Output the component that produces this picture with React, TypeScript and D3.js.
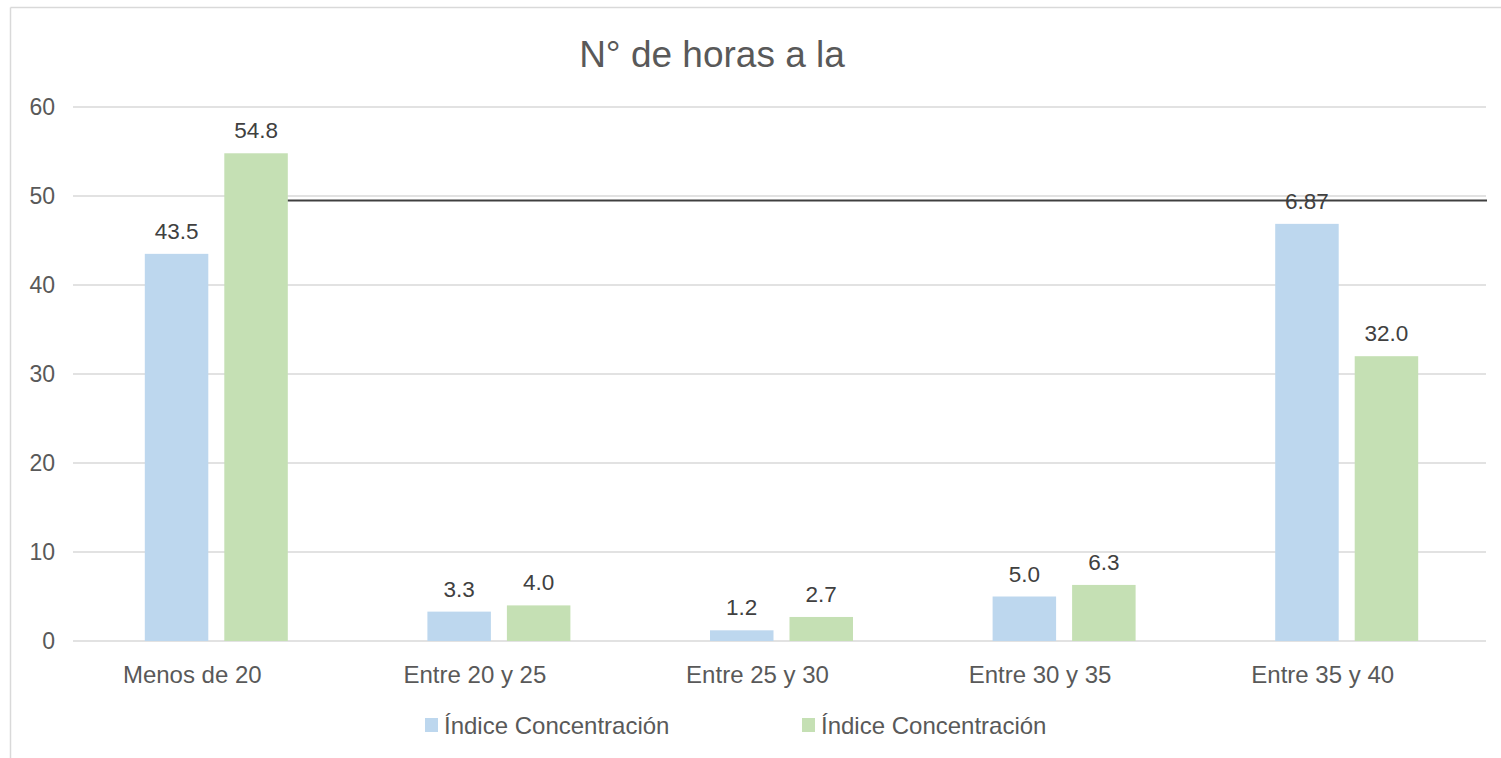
import React from "react";
import * as d3 from "d3";

const categories = ["Menos de 20", "Entre 20 y 25", "Entre 25 y 30", "Entre 30 y 35", "Entre 35 y 40"];
const seriesA = [43.5, 3.3, 1.2, 5.0, 46.87];
const seriesB = [54.8, 4.0, 2.7, 6.3, 32.0];
const labelsA = ["43.5", "3.3", "1.2", "5.0", "6.87"];
const labelsB = ["54.8", "4.0", "2.7", "6.3", "32.0"];
const seriesNames = ["Índice Concentración", "Índice Concentración"];
const yTicks = [0, 10, 20, 30, 40, 50, 60];
const refLineValue = 49.5;
const title = "N° de horas a la";

const W = 1501;
const H = 758;
const plot = { left: 73, right: 1486, top: 107, bottom: 641 };
const colors = ["#bdd7ee", "#c5e0b4"];
const font = "'Liberation Sans', Arial, sans-serif";

export default function App() {
  const x = d3.scaleBand<string>().domain(categories).range([plot.left, plot.right]);
  const y = d3.scaleLinear().domain([0, 60]).range([plot.bottom, plot.top]);
  const barW = 63.5;
  const gap = 16;
  const bw = x.bandwidth();

  const barX = (i: number, s: number) => {
    const c = (x(categories[i]) as number) + bw / 2 + 2;
    return s === 0 ? c - gap / 2 - barW : c + gap / 2;
  };

  return (
    <svg
      width={W}
      height={H}
      style={{ position: "absolute", left: 0, top: 0, background: "#fff" }}
      fontFamily={font}
    >
      <rect x={0} y={0} width={W} height={H} fill="#fff" />
      <line x1={10.5} y1={7.5} x2={W + 5} y2={7.5} stroke="#d9d9d9" strokeWidth={1.5} />
      <line x1={10.5} y1={7.5} x2={10.5} y2={H + 5} stroke="#d9d9d9" strokeWidth={1.5} />

      <text x={712} y={67} textAnchor="middle" fontSize={37} fill="#595959">
        {title}
      </text>

      {yTicks.map((t) => (
        <g key={t}>
          <line x1={plot.left} x2={plot.right} y1={y(t)} y2={y(t)} stroke="#d9d9d9" strokeWidth={1.5} />
          <text x={55} y={y(t)} dy="0.35em" textAnchor="end" fontSize={23} fill="#595959">
            {t}
          </text>
        </g>
      ))}

      {categories.map((c, i) => (
        <g key={c}>
          <rect x={barX(i, 0)} y={y(seriesA[i])} width={barW} height={y(0) - y(seriesA[i])} fill={colors[0]} />
          <rect x={barX(i, 1)} y={y(seriesB[i])} width={barW} height={y(0) - y(seriesB[i])} fill={colors[1]} />
          <text x={barX(i, 0) + barW / 2} y={y(seriesA[i]) - 15} textAnchor="middle" fontSize={22.5} fill="#404040">
            {labelsA[i]}
          </text>
          <text x={barX(i, 1) + barW / 2} y={y(seriesB[i]) - 15} textAnchor="middle" fontSize={22.5} fill="#404040">
            {labelsB[i]}
          </text>
          <text x={(x(c) as number) + bw / 2 - 22} y={683} textAnchor="middle" fontSize={24} fill="#595959">
            {c}
          </text>
        </g>
      ))}

      <line
        x1={barX(0, 1) + barW}
        x2={plot.right + 1}
        y1={y(refLineValue)}
        y2={y(refLineValue)}
        stroke="#404040"
        strokeWidth={2}
      />

      {[0, 1].map((s) => {
        const lx = s === 0 ? 425 : 802;
        return (
          <g key={s}>
            <rect x={lx} y={718} width={13} height={14} fill={colors[s]} />
            <text x={lx + 19} y={734} fontSize={24} fill="#595959">
              {seriesNames[s]}
            </text>
          </g>
        );
      })}
    </svg>
  );
}
